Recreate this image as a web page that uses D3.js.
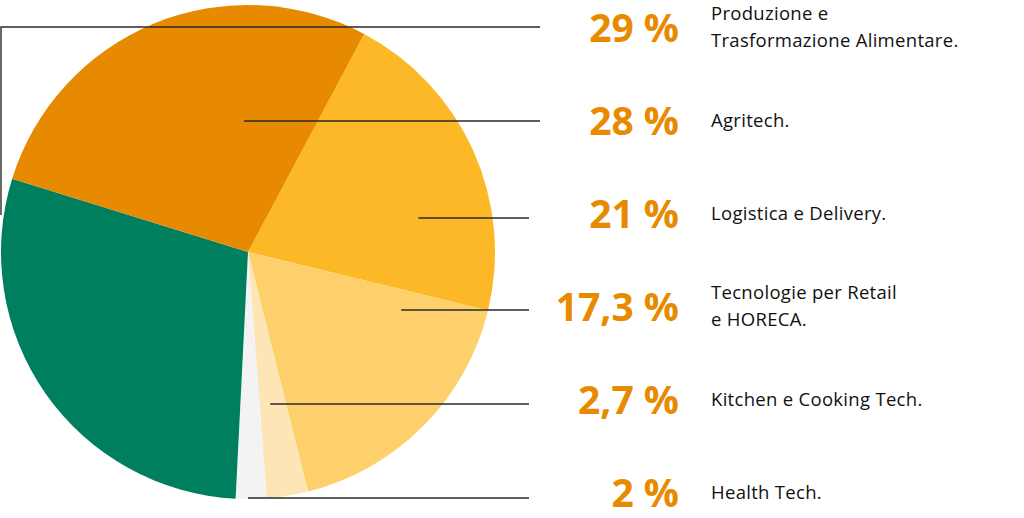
<!DOCTYPE html>
<html>
<head>
<meta charset="utf-8">
<script src="https://cdn.jsdelivr.net/npm/d3@7.9.0/dist/d3.min.js"></script>
<style>
  html, body { margin: 0; padding: 0; background: #fff; }
  svg { display: block; }
  .pct { font-family: "Open Sans", sans-serif; font-weight: 700; fill: #e88a00; }
  .desc { font-family: "Open Sans", sans-serif; fill: #111; letter-spacing: 0.3px; }
</style>
</head>
<body>
<svg width="1024" height="518"></svg>
<script>
// data, in the order the slices go clockwise
const categories = ['Logistica e Delivery.', 'Tecnologie per Retail|e HORECA.', 'Kitchen e Cooking Tech.', 'Health Tech.', 'Produzione e|Trasformazione Alimentare.', 'Agritech.'];
const values = [21, 17.3, 2.7, 2, 29, 28];
const pctLabels = ['21 %', '17,3 %', '2,7 %', '2 %', '29 %', '28 %'];
const colors = ['#fdb827', '#fed06b', '#fee5b6', '#f3f3f3', '#007f5f', '#e88a00'];

// order of the rows in the legend (top to bottom)
const rowOrder = [4, 5, 0, 1, 2, 3];

const svg = d3.select('svg');
const cx = 248, cy = 252, r = 247;

let pie = d3.pie().sort(null).value((d) => d)
  .startAngle(0.49).endAngle(0.49 + 2 * Math.PI);
let arcGen = d3.arc().innerRadius(0).outerRadius(r);

const g = svg.append('g').attr('transform', `translate(${cx},${cy})`);
g.selectAll('path')
  .data(pie(values))
  .join('path')
  .attr('d', arcGen)
  .attr('fill', (d, i) => colors[i]);

// rows on the right
let y = d3.scalePoint().domain(rowOrder).range([28, 493]);

// leader line: row y offset and starting x (relative to radius)
const lineDy = [-1, 0, 4, 3, 4, 5];
const lineStart = [null, -0.016, 0.69, 0.62, 0.09, 0];
const lineEnd = [540, 540, 529, 529, 529, 529];

rowOrder.forEach((idx, row) => {
  const yc = y(idx);
  const ly = yc + lineDy[row];
  if (lineStart[row] === null) {
    // goes round to the left edge of the pie
    svg.append('path')
      .attr('d', d3.line()([[lineEnd[row], ly], [1, ly], [1, cy - 37]]))
      .attr('fill', 'none').attr('stroke', '#2a2a2a').attr('stroke-width', 1.4);
  } else {
    svg.append('line')
      .attr('x1', cx + lineStart[row] * r).attr('x2', lineEnd[row])
      .attr('y1', ly).attr('y2', ly)
      .attr('stroke', '#2a2a2a').attr('stroke-width', 1.4);
  }

  svg.append('text')
    .attr('class', 'pct')
    .attr('x', 679).attr('y', yc + 14)
    .attr('text-anchor', 'end')
    .attr('font-size', 39)
    .text(pctLabels[idx]);

  const lines = categories[idx].split('|');
  const t = svg.append('text')
    .attr('class', 'desc')
    .attr('x', 711)
    .attr('font-size', 18.5);
  if (lines.length === 1) {
    t.attr('y', yc + 6).text(lines[0]);
  } else {
    lines.forEach((s, k) => {
      t.append('tspan').attr('x', 711).attr('y', yc - 8 + k * 27).text(s);
    });
  }
});
</script>
</body>
</html>
